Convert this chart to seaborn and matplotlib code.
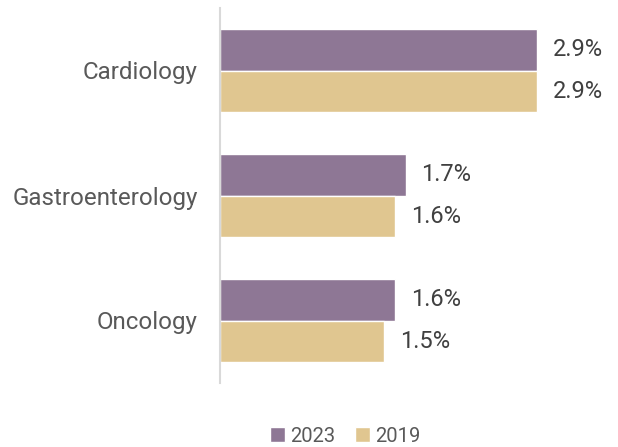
import matplotlib
matplotlib.use("Agg")
import matplotlib.pyplot as plt
import seaborn as sns
import pandas as pd

categories = ["Cardiology", "Gastroenterology", "Oncology"]
years = ["2023", "2019"]
values_2023 = [2.9, 1.7, 1.6]
values_2019 = [2.9, 1.6, 1.5]
colors = ["#8E7795", "#E0C690"]

df = pd.DataFrame({
    "category": categories * 2,
    "year": [years[0]] * 3 + [years[1]] * 3,
    "value": values_2023 + values_2019,
})

sns.set_style("white")
plt.rcParams["font.family"] = ["Roboto", "DejaVu Sans"]
text_color = "#404040"
cat_color = "#595959"

fig = plt.figure(figsize=(6.18, 4.47), dpi=100)
ax = fig.add_axes([220 / 618, 64 / 447, (613 - 220) / 618, 375 / 447])

sns.barplot(data=df, y="category", x="value", hue="year", hue_order=years,
            order=categories, palette=colors, orient="h", width=0.66,
            saturation=1, ax=ax, legend=True)

ax.set_xlim(0, 3.6)
ax.set_ylim(2.5, -0.5)
for cont in ax.containers:
    ax.bar_label(cont, labels=[f"{v:.1f}%" for v in cont.datavalues],
                 padding=11.5, fontsize=17, color=text_color)

ax.set_xlabel("")
ax.set_ylabel("")
ax.set_xticks([])
ax.tick_params(axis="y", length=0, pad=16, labelsize=17.4, labelcolor=cat_color)
for s in ["top", "right", "bottom"]:
    ax.spines[s].set_visible(False)
ax.spines["left"].set_color("#D9D9D9")
ax.spines["left"].set_linewidth(1.5)

handles, labels = ax.get_legend_handles_labels()
ax.legend_.remove()
fig.legend(handles, labels, loc="center", bbox_to_anchor=(345 / 618, 1 - 436 / 447),
           ncol=2, frameon=False, fontsize=14.5, handlelength=0.75, handleheight=0.75,
           handletextpad=0.25, columnspacing=1.0, labelcolor=cat_color)

fig.savefig("out.png", dpi=100)
